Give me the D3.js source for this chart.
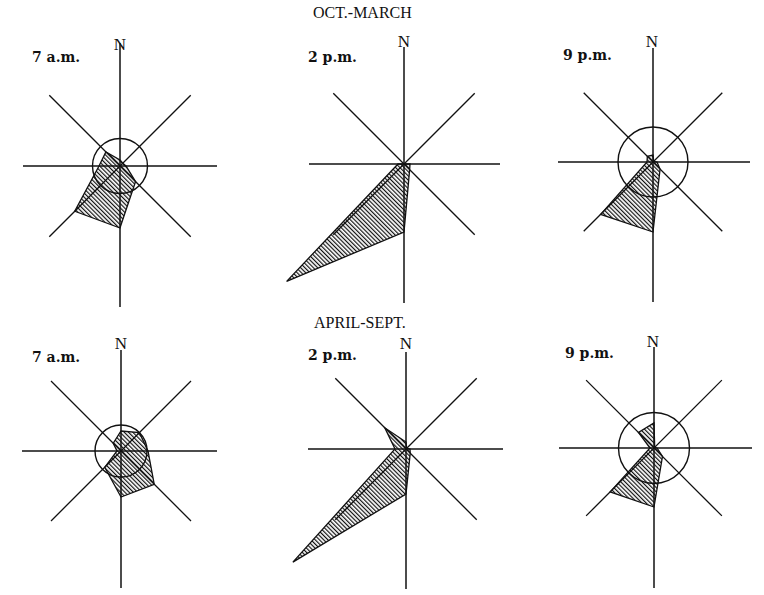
<!DOCTYPE html>
<html>
<head>
<meta charset="utf-8">
<script src="https://cdn.jsdelivr.net/npm/d3@7"></script>
<style>
  html, body { margin: 0; padding: 0; background: #fff; }
  svg { display: block; }
</style>
</head>
<body>
<svg id="chart" width="764" height="595"></svg>
<script>
// ---- data ----
const directions = ["N", "NE", "E", "SE", "S", "SW", "W", "NW"];
const seasons = ["OCT.-MARCH", "APRIL-SEPT."];
const hours = ["7 a.m.", "2 p.m.", "9 p.m."];
// relative wind frequency per direction (N, NE, E, SE, S, SW, W, NW)
const octMar7am = [3, 2, 3, 11, 31, 32, 10.5, 10];
const octMar2pm = [0, 0, 3, 4, 34, 83, 3, 0];
const octMar9pm = [3.5, 0.5, 2, 5, 35, 37, 3, 4];
const aprSep7am = [10, 13, 13.5, 23.5, 23, 11.5, 2, 5.5];
const aprSep2pm = [3.5, 0.5, 2, 3, 22.5, 80, 5.5, 15];
const aprSep9pm = [12.5, 0.5, 1.5, 6, 29.5, 31, 2, 11];
// calms (radius of circle)
const calms = [13.75, 0, 17.5, 13, 0, 17.75];

const series = [octMar7am, octMar2pm, octMar9pm, aprSep7am, aprSep2pm, aprSep9pm];

// ---- layout (positions only) ----
const layout = [
  {cx: 120, cy: 166, n: 123, s: 141, e: 97, w: 97, d: 100, lx: 32,  ly: 62,  nx: 120, ny: 50},
  {cx: 404, cy: 164, n: 117, s: 139, e: 96, w: 95, d: 100, lx: 308, ly: 62,  nx: 404, ny: 47},
  {cx: 653, cy: 162, n: 114, s: 140, e: 97, w: 95, d: 98,  lx: 563, ly: 60,  nx: 652, ny: 47},
  {cx: 121, cy: 451, n: 101, s: 137, e: 96, w: 99, d: 99,  lx: 32,  ly: 362, nx: 121, ny: 349},
  {cx: 406, cy: 449, n: 97,  s: 140, e: 97, w: 98, d: 100, lx: 308, ly: 360, nx: 406, ny: 349},
  {cx: 654, cy: 448, n: 101, s: 140, e: 98, w: 95, d: 96,  lx: 565, ly: 358, nx: 653, ny: 347}
];
const seasonPos = [{x: 313, y: 18}, {x: 314, y: 328}];

const svg = d3.select("#chart");
svg.append("rect").attr("width", 764).attr("height", 595).attr("fill", "#fff");

const defs = svg.append("defs");
const pat = defs.append("pattern")
  .attr("id", "hatch")
  .attr("patternUnits", "userSpaceOnUse")
  .attr("width", 3).attr("height", 10)
  .attr("patternTransform", "rotate(-45)");
pat.append("line")
  .attr("x1", 0.6).attr("y1", 0).attr("x2", 0.6).attr("y2", 10)
  .attr("stroke", "#111").attr("stroke-width", 1.2);

const r = d3.scaleLinear().domain([0, 50]).range([0, 100]);
const angle = d3.scalePoint().domain(directions).range([0, 2 * Math.PI * 7 / 8]);

const radial = d3.lineRadial()
  .angle((d, i) => angle(directions[i]))
  .radius(d => r(d))
  .curve(d3.curveLinearClosed);

const serif = "'Liberation Serif', 'DejaVu Serif', serif";

// season titles
svg.selectAll("text.season").data(seasons).join("text")
  .attr("class", "season")
  .attr("x", (d, i) => seasonPos[i].x)
  .attr("y", (d, i) => seasonPos[i].y)
  .attr("font-family", serif)
  .attr("font-size", 16)
  .attr("fill", "#111")
  .text(d => d);

series.forEach((vals, p) => {
  const L = layout[p];
  const g = svg.append("g").attr("transform", `translate(${L.cx},${L.cy})`);

  // arms: direction -> length
  const armLen = {N: L.n, NE: L.d, E: L.e, SE: L.d, S: L.s, SW: L.d, W: L.w, NW: L.d};
  const arms = [["N", "S"], ["E", "W"], ["NE", "SW"], ["NW", "SE"]];
  arms.forEach(([a, b]) => {
    const pa = d3.pointRadial(angle(a), armLen[a]);
    const pb = d3.pointRadial(angle(b), armLen[b]);
    g.append("line")
      .attr("x1", pa[0]).attr("y1", pa[1])
      .attr("x2", pb[0]).attr("y2", pb[1])
      .attr("stroke", "#111")
      .attr("stroke-width", (a === "N" || a === "E") ? 1.5 : 1.3);
  });

  // hatched rose polygon
  g.append("path")
    .attr("d", radial(vals))
    .attr("fill", "url(#hatch)")
    .attr("stroke", "#111")
    .attr("stroke-width", 1.3)
    .attr("stroke-linejoin", "miter");

  // calm circle
  if (calms[p] > 0) {
    g.append("circle")
      .attr("r", r(calms[p]))
      .attr("fill", "none")
      .attr("stroke", "#111")
      .attr("stroke-width", 1.4);
  }

  // hour label
  svg.append("text")
    .attr("x", L.lx).attr("y", L.ly)
    .attr("font-family", "'DejaVu Serif', serif")
    .attr("font-weight", "bold")
    .attr("font-size", 14)
    .attr("fill", "#111")
    .text(hours[p % 3]);

  // N label
  svg.append("text")
    .attr("x", L.nx).attr("y", L.ny)
    .attr("text-anchor", "middle")
    .attr("font-family", serif)
    .attr("font-size", 17)
    .attr("fill", "#111")
    .text(directions[0]);
});
</script>
</body>
</html>
